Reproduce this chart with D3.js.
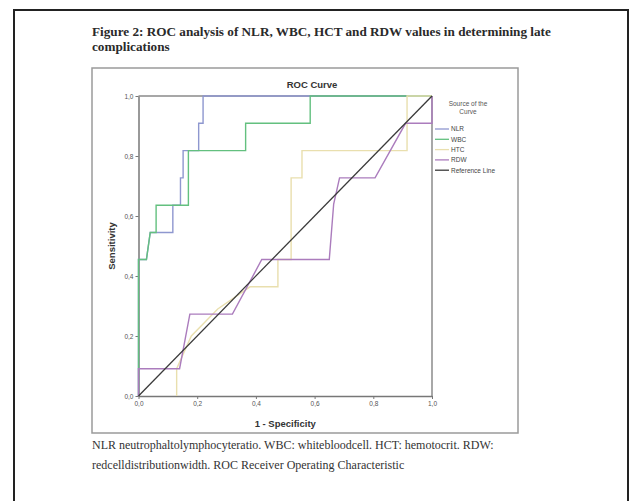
<!DOCTYPE html>
<html>
<head>
<meta charset="utf-8">
<script src="https://cdn.jsdelivr.net/npm/d3@7"></script>
<style>
  body { margin: 0; background: #fff; }
  svg { display: block; }
</style>
</head>
<body>
<div id="chart"></div>
<script>
// page + chart frame sizes
const PAGE_WIDTH = 631;
const PAGE_HEIGHT = 501;
const PLOT = {left: 138.5, right: 432, top: 96, bottom: 396};

// roc curves (1 - specificity, sensitivity)
const NLR_FPR = [0, 0, 0.027, 0.04, 0.117, 0.117, 0.143, 0.143, 0.152, 0.152, 0.205, 0.205, 0.22, 0.22, 1];
const NLR_TPR = [0, 0.455, 0.455, 0.545, 0.545, 0.636, 0.636, 0.727, 0.727, 0.818, 0.818, 0.909, 0.909, 1, 1];

const WBC_FPR = [0, 0, 0.027, 0.04, 0.06, 0.06, 0.17, 0.17, 0.365, 0.365, 0.585, 0.585, 1];
const WBC_TPR = [0, 0.455, 0.455, 0.545, 0.545, 0.636, 0.636, 0.818, 0.818, 0.909, 0.909, 1, 1];

const HTC_FPR = [0.13, 0.13, 0.18, 0.27, 0.38, 0.475, 0.475, 0.52, 0.52, 0.557, 0.557, 0.915, 0.915, 1];
const HTC_TPR = [0, 0.091, 0.2, 0.29, 0.364, 0.364, 0.455, 0.455, 0.727, 0.727, 0.818, 0.818, 1, 1];

const RDW_FPR = [0, 0, 0.14, 0.175, 0.32, 0.42, 0.65, 0.665, 0.685, 0.806, 0.91, 1, 1];
const RDW_TPR = [0, 0.091, 0.091, 0.273, 0.273, 0.455, 0.455, 0.64, 0.727, 0.727, 0.909, 0.909, 1];

const REF_FPR = [0, 1];
const REF_TPR = [0, 1];

const SERIES_NAMES = ["NLR", "WBC", "HTC", "RDW", "Reference Line"];
const SERIES_COLORS = ["#8e97cf", "#63c07f", "#e9dfae", "#ab7cbd", "#3a3a3a"];

const TICK_VALUES = [0, 0.2, 0.4, 0.6, 0.8, 1];
const TICK_LABELS = ["0,0", "0,2", "0,4", "0,6", "0,8", "1,0"];

const FRAME = d3.select("#chart")
                .append("svg")
                .attr("width", PAGE_WIDTH)
                .attr("height", PAGE_HEIGHT);

// page border
FRAME.append("rect")
    .attr("x", 14)
    .attr("y", 10)
    .attr("width", 614)
    .attr("height", 500)
    .style("fill", "#fff")
    .style("stroke", "#222")
    .style("stroke-width", 2);

// figure title
const TITLE = FRAME.append("text")
    .style("font-family", "'Liberation Serif', serif")
    .style("font-weight", "bold")
    .style("font-size", "13.2px")
    .style("fill", "#2a2a2a");
TITLE.append("tspan").attr("x", 92).attr("y", 36)
    .text("Figure 2: ROC analysis of NLR, WBC, HCT and RDW values in determining late");
TITLE.append("tspan").attr("x", 92).attr("y", 51)
    .text("complications");

// spss chart frame
FRAME.append("rect")
    .attr("x", 92)
    .attr("y", 68)
    .attr("width", 426)
    .attr("height", 365)
    .style("fill", "#fff")
    .style("stroke", "#9a9a9a")
    .style("stroke-width", 1.5);

const X_SCALE = d3.scaleLinear()
                  .domain([0, 1])
                  .range([PLOT.left, PLOT.right]);

const Y_SCALE = d3.scaleLinear()
                  .domain([0, 1])
                  .range([PLOT.bottom, PLOT.top]);

// top + right edges of the plot box
FRAME.append("line")
    .attr("x1", X_SCALE(0)).attr("y1", Y_SCALE(1))
    .attr("x2", X_SCALE(1)).attr("y2", Y_SCALE(1))
    .style("stroke", "#8a8a8a").style("stroke-width", 1.5);
FRAME.append("line")
    .attr("x1", X_SCALE(1)).attr("y1", Y_SCALE(1))
    .attr("x2", X_SCALE(1)).attr("y2", Y_SCALE(0))
    .style("stroke", "#a8a8a8").style("stroke-width", 2);

// axes
const X_AXIS = FRAME.append("g")
    .attr("transform", "translate(0," + PLOT.bottom + ")")
    .call(d3.axisBottom(X_SCALE)
            .tickValues(TICK_VALUES)
            .tickFormat((d, i) => TICK_LABELS[i])
            .tickSize(3)
            .tickSizeOuter(0)
            .tickPadding(2));

const Y_AXIS = FRAME.append("g")
    .attr("transform", "translate(" + PLOT.left + ",0)")
    .call(d3.axisLeft(Y_SCALE)
            .tickValues(TICK_VALUES)
            .tickFormat((d, i) => TICK_LABELS[i])
            .tickSize(3)
            .tickSizeOuter(0)
            .tickPadding(2));

[X_AXIS, Y_AXIS].forEach((ax) => {
    ax.select(".domain").style("stroke", "#777").style("stroke-width", 1.5);
    ax.selectAll(".tick line").style("stroke", "#777");
    ax.selectAll(".tick text")
      .style("font-family", "'Liberation Sans', Arial, sans-serif")
      .style("font-size", "6.5px")
      .style("fill", "#555");
});

// roc lines
const LINE = d3.line()
               .x((d) => { return X_SCALE(d[0]); })
               .y((d) => { return Y_SCALE(d[1]); });

const SERIES = [
    d3.zip(NLR_FPR, NLR_TPR),
    d3.zip(WBC_FPR, WBC_TPR),
    d3.zip(HTC_FPR, HTC_TPR),
    d3.zip(RDW_FPR, RDW_TPR),
    d3.zip(REF_FPR, REF_TPR)
];

FRAME.selectAll(".roc")
    .data(SERIES)
    .enter()
    .append("path")
      .attr("class", "roc")
      .attr("d", (d) => { return LINE(d); })
      .style("fill", "none")
      .style("stroke", (d, i) => { return SERIES_COLORS[i]; })
      .style("stroke-width", (d, i) => { return i == 4 ? 1.3 : 1.4; });

// chart texts
const SANS = "'Liberation Sans', Arial, sans-serif";

FRAME.append("text")
    .attr("x", 312)
    .attr("y", 88)
    .attr("text-anchor", "middle")
    .style("font-family", SANS)
    .style("font-weight", "bold")
    .style("font-size", "9.5px")
    .style("fill", "#333")
    .text("ROC Curve");

FRAME.append("text")
    .attr("x", (PLOT.left + PLOT.right) / 2)
    .attr("y", 427)
    .attr("text-anchor", "middle")
    .style("font-family", SANS)
    .style("font-weight", "bold")
    .style("font-size", "9.5px")
    .style("fill", "#333")
    .text("1 - Specificity");

FRAME.append("text")
    .attr("transform", "translate(115," + ((PLOT.top + PLOT.bottom) / 2) + ") rotate(-90)")
    .attr("text-anchor", "middle")
    .style("font-family", SANS)
    .style("font-weight", "bold")
    .style("font-size", "9.5px")
    .style("fill", "#333")
    .text("Sensitivity");

// legend
const LEGEND = FRAME.append("g");
LEGEND.append("text")
    .attr("x", 468).attr("y", 106)
    .attr("text-anchor", "middle")
    .style("font-family", SANS).style("font-size", "6.5px").style("fill", "#555")
    .text("Source of the");
LEGEND.append("text")
    .attr("x", 468).attr("y", 114)
    .attr("text-anchor", "middle")
    .style("font-family", SANS).style("font-size", "6.5px").style("fill", "#555")
    .text("Curve");

const ROWS = LEGEND.selectAll(".row")
    .data(SERIES_NAMES)
    .enter()
    .append("g")
      .attr("class", "row")
      .attr("transform", (d, i) => { return "translate(435," + (129 + i * 10.3) + ")"; });

ROWS.append("line")
    .attr("x1", 0).attr("x2", 14)
    .style("stroke", (d, i) => { return SERIES_COLORS[i]; })
    .style("stroke-width", 1.3);

ROWS.append("text")
    .attr("x", 16).attr("y", 2.3)
    .style("font-family", SANS).style("font-size", "6.5px").style("fill", "#444")
    .text((d) => { return d; });

// caption under the chart
const CAPTION = FRAME.append("text")
    .style("font-family", "'Liberation Serif', serif")
    .style("font-size", "12px")
    .style("fill", "#333");
CAPTION.append("tspan").attr("x", 92).attr("y", 449)
    .text("NLR neutrophaltolymphocyteratio.  WBC: whitebloodcell. HCT: hemotocrit. RDW:");
CAPTION.append("tspan").attr("x", 92).attr("y", 469)
    .text("redcelldistributionwidth.  ROC Receiver Operating Characteristic");
</script>
</body>
</html>
